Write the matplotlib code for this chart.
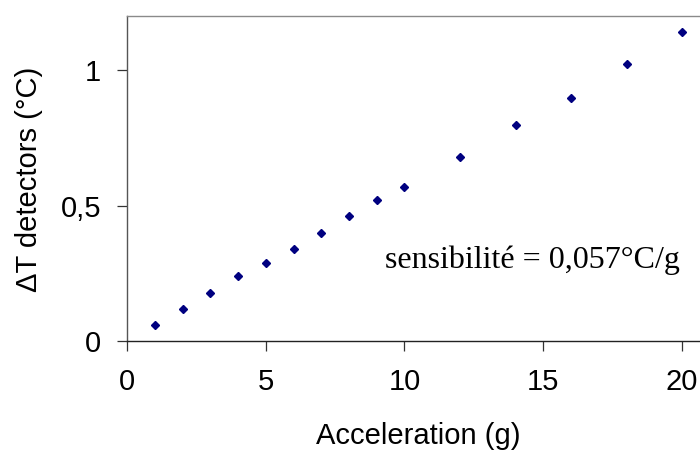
import matplotlib
matplotlib.use("Agg")
import matplotlib.pyplot as plt

# acceleration (g) and temperature difference between detectors (degC)
accel = [1, 2, 3, 4, 5, 6, 7, 8, 9, 10, 12, 14, 16, 18, 20]
delta_t = [0.058, 0.117, 0.176, 0.241, 0.288, 0.341, 0.400, 0.460, 0.520,
           0.567, 0.680, 0.799, 0.899, 1.024, 1.142]

xticks = [0, 5, 10, 15, 20]
yticks = [0, 0.5, 1]
ytick_labels = ["0", "0,5", "1"]

W, H = 700, 454
fig = plt.figure(figsize=(W / 100, H / 100), dpi=100)
# plot area placed in pixels: left 127, top 16, bottom 341, runs past right edge
ax = fig.add_axes([127 / W, 1 - 341 / H, (W - 127) / W, (341 - 16) / H])

ax.plot(accel, delta_t, linestyle="none", marker="D", markersize=4.3,
        color="#000080", clip_on=False)

ax.set_xlim(0, (W - 127) / 27.75)
ax.set_ylim(0, 1.2)
ax.set_xticks(xticks)
ax.set_yticks(yticks)
ax.set_yticklabels(ytick_labels)

sans = ["Liberation Sans", "DejaVu Sans"]
ax.tick_params(axis="both", direction="out", length=7.5, width=0.9,
               color="#333333", labelsize=21)
ax.tick_params(axis="x", pad=12)
ax.tick_params(axis="y", pad=11)
for lab in ax.get_xticklabels() + ax.get_yticklabels():
    lab.set_family(sans)

ax.spines["right"].set_visible(False)
ax.spines["top"].set_color("#8a8a8a")
ax.spines["left"].set_color("#555555")
ax.spines["bottom"].set_color("#222222")
for s in ax.spines.values():
    s.set_linewidth(1.0)

ax.text(19.93, 0.27, "sensibilité = 0,057°C/g", ha="right", va="baseline",
        fontsize=23, family=["Liberation Serif", "DejaVu Serif"])

fig.text(418 / W, 1 - 436 / H, "Acceleration (g)", ha="center", va="center",
         fontsize=21, family=sans)
fig.text(29 / W, 1 - 179 / H, "ΔT detectors (°C)", ha="center", va="center",
         rotation=90, fontsize=21, family=sans)

fig.savefig("out.png", dpi=100)
